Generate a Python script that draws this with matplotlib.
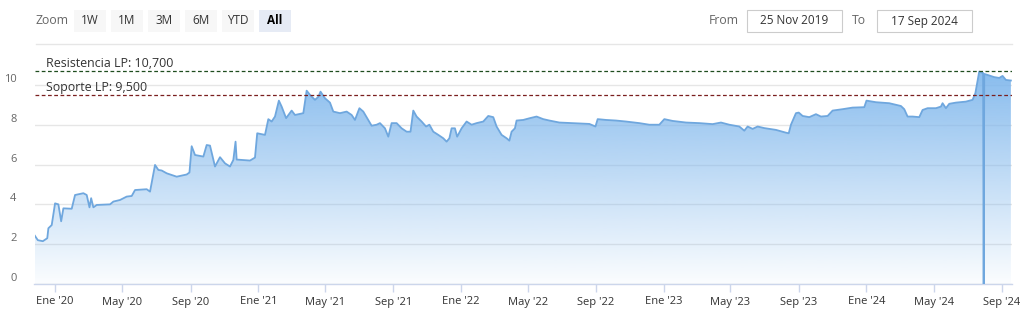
import matplotlib
matplotlib.use("Agg")
import matplotlib.pyplot as plt
import matplotlib.dates as mdates
from matplotlib.patches import Rectangle
import numpy as np
import pandas as pd

plt.rcParams['font.family'] = ['Open Sans', 'DejaVu Sans']

dates = [
    "2019-11-25", "2019-12-01", "2019-12-10", "2019-12-18", "2019-12-20", "2019-12-26",
    "2020-01-01", "2020-01-07", "2020-01-12", "2020-01-16", "2020-01-31", "2020-02-06",
    "2020-02-21", "2020-02-27", "2020-03-03", "2020-03-06", "2020-03-10", "2020-03-16",
    "2020-04-09", "2020-04-15", "2020-04-27", "2020-05-09", "2020-05-18", "2020-05-24",
    "2020-06-14", "2020-06-20", "2020-06-29", "2020-07-05", "2020-07-11", "2020-07-20",
    "2020-08-07", "2020-08-25", "2020-08-30", "2020-09-03", "2020-09-09", "2020-09-24",
    "2020-09-30", "2020-10-06", "2020-10-15", "2020-10-24", "2020-11-02", "2020-11-11",
    "2020-11-17", "2020-11-21", "2020-11-23", "2020-12-17", "2020-12-26", "2020-12-30",
    "2021-01-13", "2021-01-19", "2021-01-25", "2021-01-31", "2021-02-07", "2021-02-12",
    "2021-02-20", "2021-03-02", "2021-03-08", "2021-03-23", "2021-03-29", "2021-04-04",
    "2021-04-13", "2021-04-19", "2021-04-23", "2021-05-01", "2021-05-10", "2021-05-16",
    "2021-05-28", "2021-06-09", "2021-06-18", "2021-06-24", "2021-07-02", "2021-07-09",
    "2021-07-18", "2021-07-24", "2021-08-02", "2021-08-08", "2021-08-17", "2021-08-23",
    "2021-08-29", "2021-09-07", "2021-09-16", "2021-09-25", "2021-10-02", "2021-10-07",
    "2021-10-13", "2021-10-22", "2021-10-30", "2021-11-05", "2021-11-12", "2021-11-21",
    "2021-11-30", "2021-12-06", "2021-12-11", "2021-12-15", "2021-12-21", "2021-12-25",
    "2022-01-02", "2022-01-11", "2022-01-20", "2022-01-29", "2022-02-10", "2022-02-19",
    "2022-02-28", "2022-03-06", "2022-03-15", "2022-03-24", "2022-03-29", "2022-04-02",
    "2022-04-08", "2022-04-11", "2022-04-23", "2022-05-05", "2022-05-17", "2022-05-29",
    "2022-06-09", "2022-06-27", "2022-07-21", "2022-08-20", "2022-08-31", "2022-09-04",
    "2022-09-19", "2022-10-07", "2022-10-25", "2022-11-18", "2022-12-06", "2022-12-24",
    "2023-01-02", "2023-01-17", "2023-02-10", "2023-03-06", "2023-03-30", "2023-04-14",
    "2023-04-29", "2023-05-17", "2023-05-26", "2023-06-01", "2023-06-10", "2023-06-19",
    "2023-07-01", "2023-07-22", "2023-08-09", "2023-08-14", "2023-08-18", "2023-08-27",
    "2023-09-01", "2023-09-08", "2023-09-20", "2023-10-02", "2023-10-11", "2023-10-23",
    "2023-11-01", "2023-11-19", "2023-12-07", "2023-12-28", "2024-01-01", "2024-01-18",
    "2024-02-11", "2024-03-03", "2024-03-09", "2024-03-15", "2024-03-24", "2024-04-05",
    "2024-04-11", "2024-04-20", "2024-05-05", "2024-05-14", "2024-05-17", "2024-05-23",
    "2024-05-29", "2024-06-10", "2024-06-28", "2024-07-10", "2024-07-15", "2024-07-22",
    "2024-07-28", "2024-07-29", "2024-07-30", "2024-07-31", "2024-08-06", "2024-08-18",
    "2024-08-27", "2024-09-02", "2024-09-08", "2024-09-17",
]
values = [
    2.45, 2.20, 2.15, 2.30, 2.80, 2.96,
    4.05, 4.00, 3.15, 3.80, 3.78, 4.47,
    4.56, 4.47, 3.85, 4.31, 3.85, 3.97,
    4.00, 4.14, 4.22, 4.39, 4.42, 4.72,
    4.76, 4.64, 5.98, 5.73, 5.70, 5.56,
    5.39, 5.50, 5.60, 6.92, 6.48, 6.40,
    6.98, 6.95, 5.90, 6.37, 6.06, 5.90,
    6.23, 7.15, 6.25, 6.20, 6.35, 7.57,
    7.49, 8.28, 8.16, 8.41, 9.21, 8.91,
    8.33, 8.71, 8.49, 8.58, 9.71, 9.50,
    9.25, 9.40, 9.66, 9.33, 9.11, 8.66,
    8.58, 8.66, 8.49, 8.24, 8.83, 8.66,
    8.24, 7.95, 8.00, 8.08, 7.82, 7.40,
    8.08, 8.08, 7.82, 7.65, 7.65, 8.71,
    8.41, 8.16, 7.91, 8.00, 7.65, 7.49,
    7.32, 7.15, 7.32, 7.82, 7.82, 7.40,
    7.82, 8.16, 8.00, 8.08, 8.16, 8.44,
    8.38, 7.91, 7.49, 7.32, 7.20, 7.65,
    7.82, 8.21, 8.24, 8.33, 8.41, 8.28,
    8.21, 8.11, 8.08, 8.04, 7.91, 8.28,
    8.24, 8.21, 8.16, 8.08, 8.00, 8.00,
    8.28, 8.19, 8.11, 8.08, 8.03, 8.11,
    8.00, 7.91, 7.70, 7.91, 7.79, 7.91,
    7.83, 7.74, 7.60, 7.57, 8.00, 8.58,
    8.61, 8.44, 8.38, 8.53, 8.41, 8.44,
    8.71, 8.78, 8.86, 8.88, 9.21, 9.13,
    9.08, 8.94, 8.78, 8.41, 8.41, 8.38,
    8.74, 8.83, 8.83, 8.91, 9.08, 8.83,
    9.05, 9.11, 9.16, 9.25, 9.58, 10.67,
    10.60, 10.60, 0.0, 10.55, 10.50, 10.39,
    10.35, 10.45, 10.25, 10.22,
]

resistencia = 10.7
soporte = 9.5
resistencia_label = "Resistencia LP: 10,700"
soporte_label = "Soporte LP: 9,500"

tick_dates = ["2020-01-01", "2020-05-01", "2020-09-01", "2021-01-01", "2021-05-01",
              "2021-09-01", "2022-01-01", "2022-05-01", "2022-09-01", "2023-01-01",
              "2023-05-01", "2023-09-01", "2024-01-01", "2024-05-01", "2024-09-01"]
tick_labels = ["Ene '20", "May '20", "Sep '20", "Ene '21", "May '21", "Sep '21",
               "Ene '22", "May '22", "Sep '22", "Ene '23", "May '23", "Sep '23",
               "Ene '24", "May '24", "Sep '24"]
y_ticks = [0, 2, 4, 6, 8, 10]

zoom_buttons = ["1W", "1M", "3M", "6M", "YTD", "All"]
date_from = "25 Nov 2019"
date_to = "17 Sep 2024"

W, H = 1022, 311
fig = plt.figure(figsize=(W / 100, H / 100), dpi=100)
fig.patch.set_facecolor("white")

left_px, right_px, top_px, bottom_px = 34.5, 1012, 61, 284
ax = fig.add_axes([left_px / W, 1 - bottom_px / H, (right_px - left_px) / W, (bottom_px - top_px) / H])

x = pd.to_datetime(dates)
y = np.array(values)
xn = mdates.date2num(x)

ymax = 11.2
ax.set_xlim(mdates.date2num(pd.Timestamp("2019-11-25")), mdates.date2num(pd.Timestamp("2024-09-19")))
ax.set_ylim(0, ymax)

# gradient fill under the series
poly = ax.fill_between(xn, y, 0, facecolor="none", edgecolor="none")
grad = np.linspace(0, 1, 256)
base = np.array([124, 181, 236]) / 255.0
img = np.zeros((256, 1, 4))
img[..., 0] = base[0]
img[..., 1] = base[1]
img[..., 2] = base[2]
img[..., 3] = (0.03 + 0.92 * grad[::-1]).reshape(-1, 1)
im = ax.imshow(img, aspect="auto", extent=[xn.min(), xn.max(), 0, ymax], origin="upper", zorder=1)
im.set_clip_path(poly.get_paths()[0], transform=ax.transData)

ax.plot(xn, y, color="#6fa7de", lw=1.3, zorder=3, solid_joinstyle="round")

# grid
for t in y_ticks:
    ax.axhline(t, color="#e6e6e6", lw=1, zorder=0)
ax.set_yticks(y_ticks)
ax.set_yticklabels([str(t) for t in y_ticks])
ax.tick_params(axis="y", length=0, pad=13, labelsize=8, labelcolor="#666666")
for lab in ax.get_yticklabels():
    lab.set_verticalalignment("bottom")

ax.set_xticks(mdates.date2num(pd.to_datetime(tick_dates)))
ax.set_xticklabels(tick_labels)
ax.tick_params(axis="x", length=6, width=1, color="#ccd6eb", labelsize=8, labelcolor="#333333", pad=3)

for s in ["top", "right", "left"]:
    ax.spines[s].set_visible(False)
ax.spines["bottom"].set_color("#ccd6eb")
ax.spines["bottom"].set_linewidth(1)

# support / resistance lines
ax.axhline(resistencia, color="#1f4d1f", lw=0.9, ls=(0, (3, 2)), zorder=4)
ax.axhline(soporte, color="#7a1f1f", lw=0.9, ls=(0, (3, 2)), zorder=4)
ax.text(0.012, resistencia + 0.06, resistencia_label, transform=ax.get_yaxis_transform(),
        fontsize=8.9, color="#333333", va="bottom", ha="left", zorder=5)
ax.text(0.012, soporte + 0.06, soporte_label, transform=ax.get_yaxis_transform(),
        fontsize=8.9, color="#333333", va="bottom", ha="left", zorder=5)

# top UI (range selector)
def px2fig(xp, yp):
    return xp / W, 1 - yp / H

fig.text(*px2fig(35, 21), "Zoom", fontsize=8.8, color="#666666", va="center", ha="left")
bx = [74, 111, 148, 185, 222, 259]
for b, lab in zip(bx, zoom_buttons):
    sel = lab == "All"
    fx, fy = px2fig(b, 32)
    fig.patches.append(Rectangle((fx, fy), 32 / W, 22 / H, transform=fig.transFigure,
                                 facecolor="#e6ebf5" if sel else "#f7f7f7", edgecolor="none"))
    fig.text(*px2fig(b + 16, 21), lab, fontsize=8.5, color="#000000" if sel else "#333333",
             fontweight="bold" if sel else "normal", va="center", ha="center")

fig.text(*px2fig(709, 21), "From", fontsize=8.8, color="#666666", va="center", ha="left")
fig.text(*px2fig(852, 21), "To", fontsize=8.8, color="#666666", va="center", ha="left")
for bxp, txt in [(747, date_from), (877, date_to)]:
    fx, fy = px2fig(bxp, 32)
    fig.patches.append(Rectangle((fx, fy), 95 / W, 22 / H, transform=fig.transFigure,
                                 facecolor="white", edgecolor="#cccccc", lw=0.8))
    fig.text(*px2fig(bxp + 47.5, 21), txt, fontsize=8.5, color="#333333", va="center", ha="center")

# separator line
fx0, fy0 = px2fig(36, 44)
fx1, _ = px2fig(1012, 44)
fig.add_artist(plt.Line2D([fx0, fx1], [fy0, fy0], transform=fig.transFigure, color="#e6e6e6", lw=1))

fig.savefig("out.png", dpi=100, facecolor="white")
